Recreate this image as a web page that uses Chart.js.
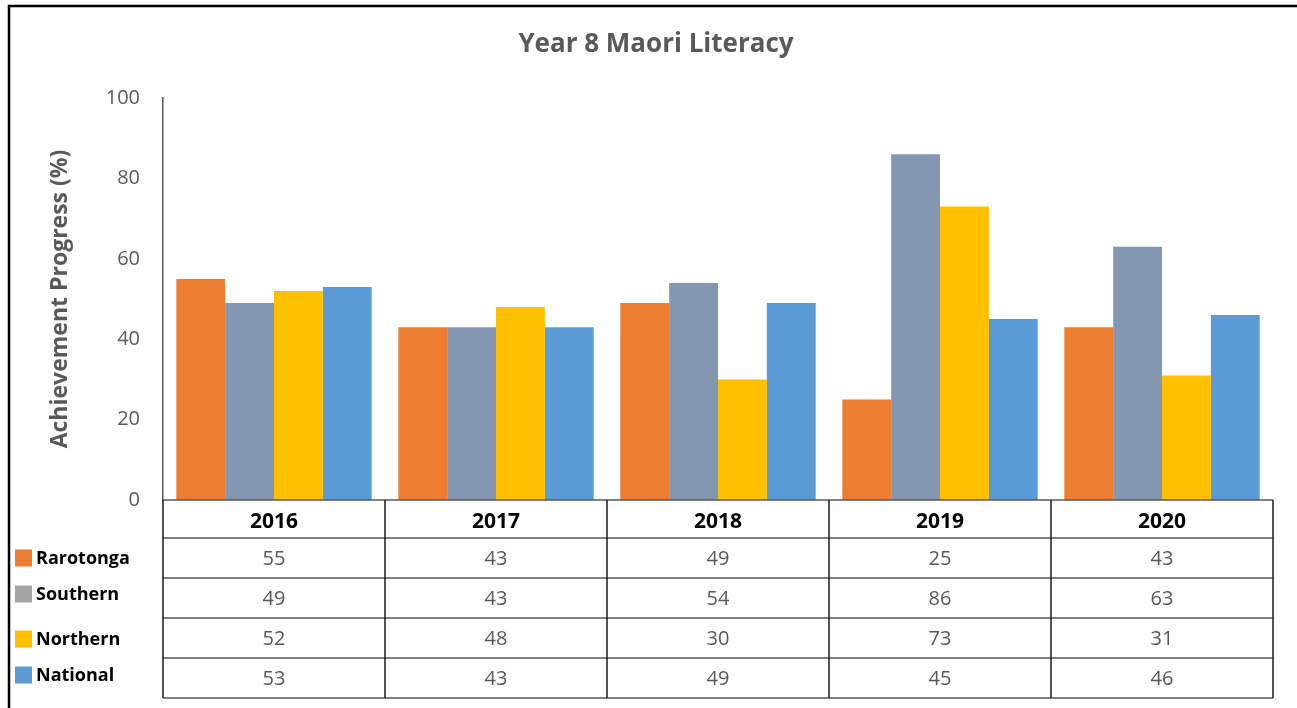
<!DOCTYPE html>
<html>
<head>
<meta charset="utf-8">
<script src="https://cdn.jsdelivr.net/npm/chart.js@4/dist/chart.umd.min.js"></script>
<style>
  html, body { margin: 0; padding: 0; background: #fff; }
  #wrap { width: 1297px; height: 708px; position: relative; }
</style>
</head>
<body>
<div id="wrap"><canvas id="chart" width="1297" height="708"></canvas></div>
<script>
const years = ['2016', '2017', '2018', '2019', '2020'];
const seriesNames = ['Rarotonga', 'Southern', 'Northern', 'National'];
const rarotonga = [55, 43, 49, 25, 43];
const southern = [49, 43, 54, 86, 63];
const northern = [52, 48, 30, 73, 31];
const national = [53, 43, 49, 45, 46];
const yTicks = [0, 20, 40, 60, 80, 100];

const barColors = ['#ED7D31', '#8497B0', '#FFC000', '#5B9BD5'];
const swatchColors = ['#ED7D31', '#A5A5A5', '#FFC000', '#5B9BD5'];
const allSeries = [rarotonga, southern, northern, national];

const FONT = "'Open Sans', 'Noto Sans', sans-serif";

// frame, title and the data table under the plot
const tablePlugin = {
  id: 'dataTable',
  beforeDraw(chart) {
    const c = chart.ctx;
    c.save();
    c.strokeStyle = '#000';
    c.lineWidth = 2.5;
    c.strokeRect(9, 6, 1400, 800);
    c.fillStyle = '#595959';
    c.font = "bold 26px " + FONT;
    c.textAlign = 'center';
    c.textBaseline = 'middle';
    c.fillText('Year 8 Maori Literacy', 656, 45);
    c.restore();
  },
  afterDraw(chart) {
    const c = chart.ctx;
    const x = chart.scales.x;
    const area = chart.chartArea;
    const colW = (x.right - x.left) / years.length;
    const headH = 38, rowH = 40;
    const top = area.bottom;
    const bottom = top + headH + rowH * seriesNames.length;

    c.save();
    // horizontal lines
    c.strokeStyle = '#595959';
    c.lineWidth = 1.5;
    for (let r = 0; r <= seriesNames.length + 1; r++) {
      const y = r === 0 ? top : top + headH + rowH * (r - 1);
      c.beginPath();
      c.moveTo(x.left, y);
      c.lineTo(x.right, y);
      c.stroke();
    }
    // vertical lines
    c.strokeStyle = '#1a1a1a';
    for (let i = 0; i <= years.length; i++) {
      const xx = x.left + colW * i;
      c.beginPath();
      c.moveTo(xx, top);
      c.lineTo(xx, bottom);
      c.stroke();
    }

    c.textAlign = 'center';
    c.textBaseline = 'middle';
    c.fillStyle = '#000';
    c.font = "bold 21px " + FONT;
    years.forEach((yr, i) => {
      c.fillText(yr, x.getPixelForValue(i), top + headH / 2 + 3);
    });

    c.font = "20px " + FONT;
    c.fillStyle = '#595959';
    allSeries.forEach((vals, r) => {
      const cy = top + headH + rowH * r + rowH / 2 + 1;
      vals.forEach((v, i) => {
        c.fillText(String(v), x.getPixelForValue(i), cy);
      });
    });

    // legend keys in the row headers
    const offs = [0, -4, 1, -3];
    c.textAlign = 'left';
    c.font = "bold 18px " + FONT;
    seriesNames.forEach((name, r) => {
      const cy = top + headH + rowH * r + rowH / 2 + offs[r];
      c.fillStyle = swatchColors[r];
      c.fillRect(15, cy - 8.5, 17, 17);
      c.fillStyle = '#000';
      c.fillText(name, 36, cy + 1);
    });
    c.restore();
  }
};

new Chart(document.getElementById('chart'), {
  type: 'bar',
  data: {
    labels: years,
    datasets: seriesNames.map((name, i) => ({
      label: name,
      data: allSeries[i],
      backgroundColor: barColors[i],
      borderWidth: 0,
      barPercentage: 1.0,
      categoryPercentage: 0.88
    }))
  },
  options: {
    responsive: false,
    animation: false,
    layout: { padding: { top: 98, right: 24, bottom: 208, left: 0 } },
    plugins: {
      legend: { display: false },
      title: { display: false },
      tooltip: { enabled: false }
    },
    scales: {
      x: {
        display: false
      },
      y: {
        min: 0,
        max: 100,
        afterFit(scale) { scale.width = 163; },
        afterBuildTicks(scale) { scale.ticks = yTicks.map(v => ({ value: v })); },
        grid: { display: false, drawTicks: false },
        border: { display: true, color: '#595959', width: 1.5 },
        ticks: {
          color: '#595959',
          padding: 23,
          font: { family: FONT, size: 20 }
        },
        title: {
          display: true,
          text: 'Achievement Progress (%)',
          color: '#595959',
          padding: { top: 47, bottom: 0 },
          font: { family: FONT, size: 23, weight: 'bold' }
        }
      }
    }
  },
  plugins: [tablePlugin]
});
</script>
</body>
</html>
